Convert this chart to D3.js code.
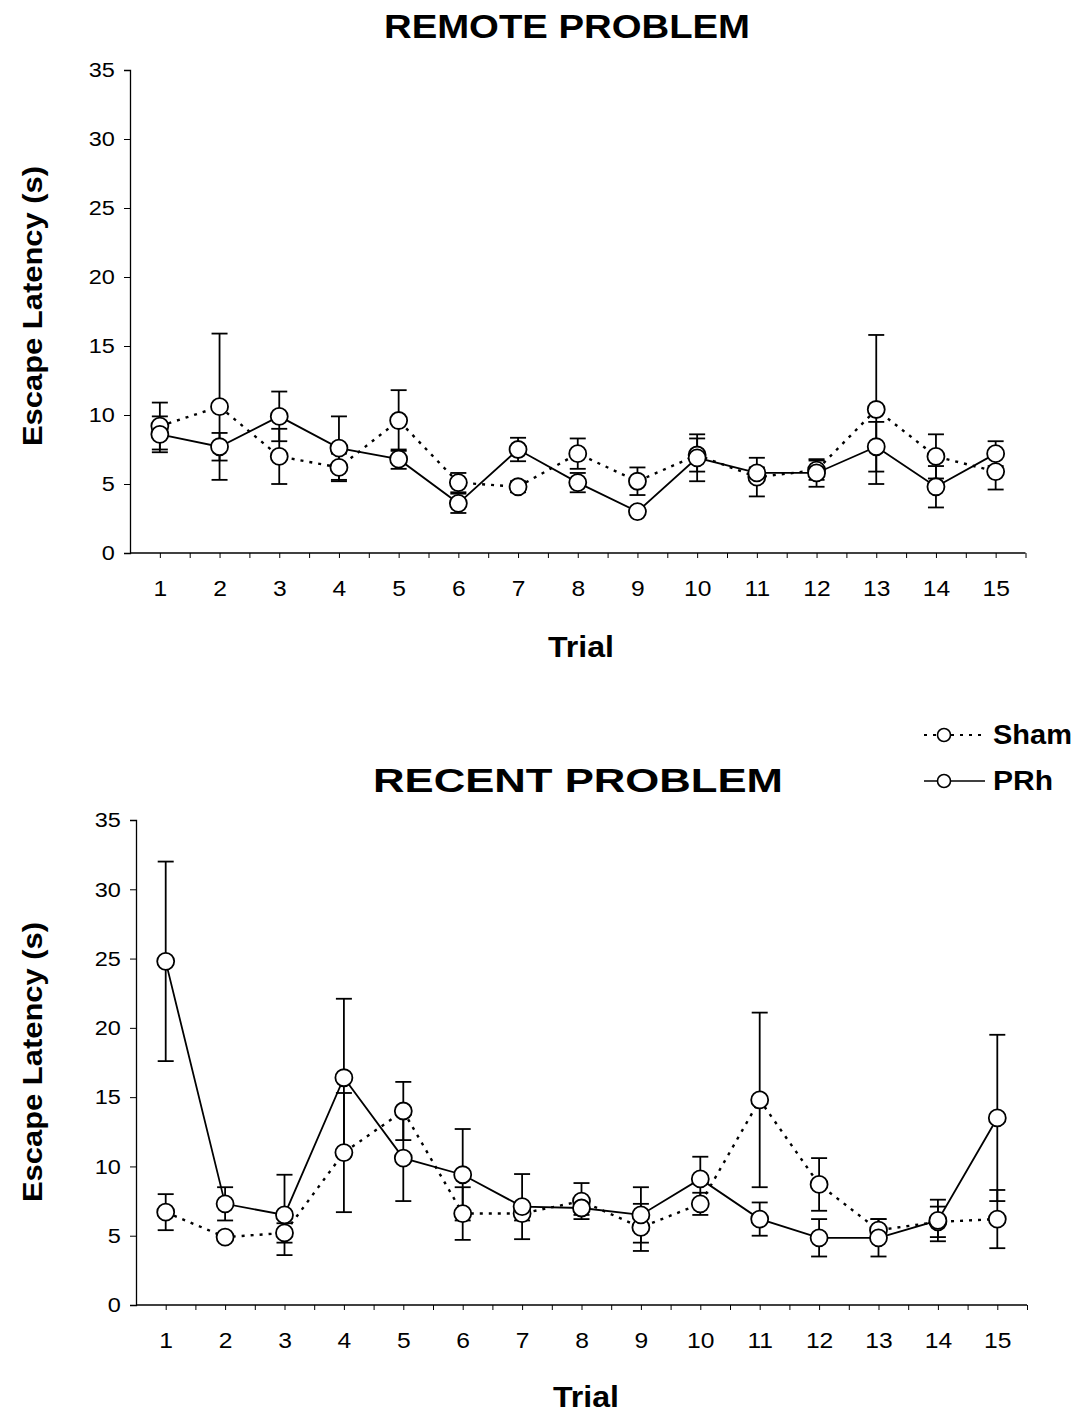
<!DOCTYPE html>
<html>
<head>
<meta charset="utf-8">
<script src="https://cdn.jsdelivr.net/npm/d3@7"></script>
<style>
  body { margin: 0; background: #fff; }
  text { font-family: "Liberation Sans", Arial, sans-serif; fill: #000; }
</style>
</head>
<body>
<svg id="fig" width="1083" height="1426"></svg>
<script>
// Trials on the x axis and y tick values
const trials = [1, 2, 3, 4, 5, 6, 7, 8, 9, 10, 11, 12, 13, 14, 15];
const yTicks = [0, 5, 10, 15, 20, 25, 30, 35];

// Remote problem: mean escape latency (s) and SEM per trial
const remoteSham    = [9.2, 10.6, 7.0, 6.2, 9.6, 5.1, 4.8, 7.2, 5.2, 7.1, 5.5, 6.0, 10.4, 7.0, 5.9];
const remoteShamErr = [1.7, 5.3, 2.0, 1.0, 2.2, 0.7, 0.4, 1.1, 1.0, 1.2, 1.4, 0.7, 5.4, 1.6, 1.3];
const remotePRh     = [8.6, 7.7, 9.9, 7.6, 6.8, 3.6, 7.5, 5.1, 3.0, 6.9, 5.8, 5.8, 7.7, 4.8, 7.2];
const remotePRhErr  = [1.3, 1.0, 1.8, 2.3, 0.7, 0.7, 0.85, 0.7, 0.2, 1.7, 0.4, 1.0, 1.8, 1.5, 0.9];

// Recent problem: mean escape latency (s) and SEM per trial
const recentSham    = [6.7, 4.9, 5.2, 11.0, 14.0, 6.6, 6.6, 7.5, 5.6, 7.3, 14.8, 8.7, 5.4, 6.0, 6.2];
const recentShamErr = [1.3, 0.2, 0.7, 4.3, 2.1, 1.9, 0.5, 1.3, 1.7, 0.8, 6.3, 1.9, 0.8, 1.1, 2.1];
const recentPRh     = [24.8, 7.3, 6.5, 16.4, 10.6, 9.4, 7.1, 7.0, 6.5, 9.1, 6.2, 4.85, 4.85, 6.1, 13.5];
const recentPRhErr  = [7.2, 1.2, 2.9, 5.7, 3.1, 3.3, 2.35, 0.5, 2.0, 1.6, 1.2, 1.35, 1.35, 1.5, 6.0];

const seriesNames = ["Sham", "PRh"];

const svg = d3.select("#fig");

const panels = [
  { title: "REMOTE PROBLEM", sham: remoteSham, shamErr: remoteShamErr, prh: remotePRh, prhErr: remotePRhErr,
    left: 130, right: 1025.5, top: 70, bottom: 553,
    titleX: 567, titleY: 38, titleW: 366, trialX: 581, trialY: 657, yTitleY: 306 },
  { title: "RECENT PROBLEM", sham: recentSham, shamErr: recentShamErr, prh: recentPRh, prhErr: recentPRhErr,
    left: 136, right: 1027, top: 820, bottom: 1305,
    titleX: 578, titleY: 792, titleW: 410, trialX: 586, trialY: 1407, yTitleY: 1062 }
];

const SX = 1.12;      // horizontal widening of tick labels
const R = 8.5;        // marker radius
const CAP = 8;        // half-width of error-bar caps

panels.forEach(p => {
  const x = d3.scaleLinear().domain([0.5, 15.5]).range([p.left, p.right]);
  const y = d3.scaleLinear().domain([0, 35]).range([p.bottom, p.top]);
  const g = svg.append("g");

  // Title
  g.append("text")
    .attr("x", p.titleX).attr("y", p.titleY)
    .attr("text-anchor", "middle")
    .attr("textLength", p.titleW).attr("lengthAdjust", "spacingAndGlyphs")
    .style("font-size", "34px").style("font-weight", "bold")
    .text(p.title);

  // Y axis
  const ya = g.append("g").attr("transform", `translate(${p.left},0)`)
    .call(d3.axisLeft(y).tickValues(yTicks).tickSize(6).tickPadding(7.5));
  ya.select(".domain").attr("stroke", "#000").attr("stroke-width", 1.3);
  ya.selectAll(".tick line").attr("stroke", "#000").attr("stroke-width", 1);
  ya.selectAll(".tick text").style("font-size", "21px").attr("transform", `scale(${SX},1)`);

  // X axis: major ticks at trials, minor ticks between them
  const xTickVals = d3.range(1, 15.51, 0.5);
  const xa = g.append("g").attr("transform", `translate(0,${p.bottom})`)
    .call(d3.axisBottom(x).tickValues(xTickVals).tickSize(5).tickPadding(22)
      .tickFormat(d => Number.isInteger(d) ? d : ""));
  xa.select(".domain").attr("stroke", "#000").attr("stroke-width", 1.3)
    .attr("d", `M${p.left},0H${p.right}`);
  xa.selectAll(".tick line").attr("stroke", "#000").attr("stroke-width", 1);
  xa.selectAll(".tick text").style("font-size", "22px").attr("transform", `scale(${SX},1)`);

  // Axis titles
  g.append("text")
    .attr("x", p.trialX).attr("y", p.trialY)
    .attr("text-anchor", "middle")
    .attr("textLength", 66).attr("lengthAdjust", "spacingAndGlyphs")
    .style("font-size", "29px").style("font-weight", "bold")
    .text("Trial");
  g.append("text")
    .attr("transform", `translate(42,${p.yTitleY}) rotate(-90)`)
    .attr("text-anchor", "middle")
    .attr("textLength", 280).attr("lengthAdjust", "spacingAndGlyphs")
    .style("font-size", "27px").style("font-weight", "bold")
    .text("Escape Latency (s)");

  const sets = [
    { name: seriesNames[0], vals: p.sham, errs: p.shamErr, dash: "3,6", lw: 2.4 },
    { name: seriesNames[1], vals: p.prh,  errs: p.prhErr,  dash: null,  lw: 1.8 }
  ];

  const line = d3.line().x((d, i) => x(trials[i])).y(d => y(d));

  // Connecting lines
  sets.forEach(s => {
    g.append("path").datum(s.vals)
      .attr("d", line)
      .attr("fill", "none").attr("stroke", "#000")
      .attr("stroke-width", s.lw)
      .attr("stroke-dasharray", s.dash);
  });

  // Error bars
  sets.forEach(s => {
    const eb = g.append("g").attr("stroke", "#000").attr("stroke-width", 1.8);
    s.vals.forEach((v, i) => {
      const cx = x(trials[i]);
      const hi = y(v + s.errs[i]), lo = y(v - s.errs[i]);
      eb.append("line").attr("x1", cx).attr("x2", cx).attr("y1", hi).attr("y2", lo);
      eb.append("line").attr("x1", cx - CAP).attr("x2", cx + CAP).attr("y1", hi).attr("y2", hi);
      eb.append("line").attr("x1", cx - CAP).attr("x2", cx + CAP).attr("y1", lo).attr("y2", lo);
    });
  });

  // Markers
  sets.forEach(s => {
    g.append("g").selectAll("circle").data(s.vals).join("circle")
      .attr("cx", (d, i) => x(trials[i]))
      .attr("cy", d => y(d))
      .attr("r", R)
      .attr("fill", "#fff").attr("stroke", "#000").attr("stroke-width", 1.8);
  });
});

// Legend
const legend = svg.append("g");
const legendRows = [
  { name: seriesNames[0], dash: "3,6", lw: 2.2, y: 735, textY: 744 },
  { name: seriesNames[1], dash: null,  lw: 1.7, y: 781, textY: 790 }
];
legendRows.forEach(r => {
  legend.append("line")
    .attr("x1", 924).attr("x2", 985).attr("y1", r.y).attr("y2", r.y)
    .attr("stroke", "#000").attr("stroke-width", r.lw)
    .attr("stroke-dasharray", r.dash);
  legend.append("circle")
    .attr("cx", 944).attr("cy", r.y).attr("r", 6.5)
    .attr("fill", "#fff").attr("stroke", "#000").attr("stroke-width", 1.6);
  legend.append("text")
    .attr("x", 993).attr("y", r.textY)
    .attr("textLength", r.name === "Sham" ? 79 : 60).attr("lengthAdjust", "spacingAndGlyphs")
    .style("font-size", "27px").style("font-weight", "bold")
    .text(r.name);
});
</script>
</body>
</html>
